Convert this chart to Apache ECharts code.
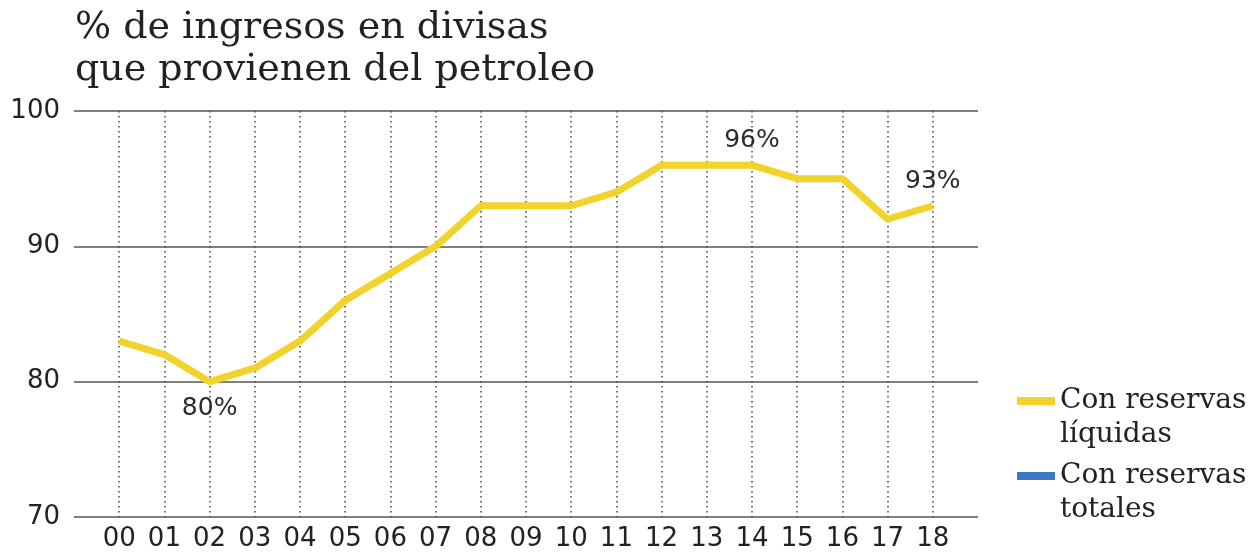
<!DOCTYPE html>
<html>
<head>
<meta charset="utf-8">
<script src="https://cdn.jsdelivr.net/npm/echarts@6/dist/echarts.min.js"></script>
<style>
  html, body { margin: 0; padding: 0; background: #fff; }
  #chart { width: 1258px; height: 554px; }
</style>
</head>
<body>
<div id="chart"></div>
<script>
'use strict';

// years 2000-2018, two-digit labels
var years = ['00', '01', '02', '03', '04', '05', '06', '07', '08', '09',
             '10', '11', '12', '13', '14', '15', '16', '17', '18'];
// % de ingresos en divisas (reservas líquidas)
var liquidas = [83, 82, 80, 81, 83, 86, 88, 90, 93, 93,
                93, 94, 96, 96, 96, 95, 95, 92, 93];
// reservas totales: no line is drawn in the source
var totales = [];
var yTicks = [70, 80, 90, 100];
var marked = ['02', '14', '18'];

var sans = '"DejaVu Sans", sans-serif';
var serif = '"DejaVu Serif", serif';

var labelPos = { '02': 'bottom', '14': 'top', '18': 'top' };

var lineData = years.map(function(y, i) {
    var item = { value: [i, liquidas[i]] };
    if (marked.indexOf(y) >= 0) {
        item.label = {
            show: true,
            position: labelPos[y],
            distance: labelPos[y] === 'bottom' ? 14 : 12,
            formatter: liquidas[i] + '%',
            fontFamily: sans,
            fontSize: 25,
            color: '#2b2b2b'
        };
    }
    return item;
});

var chart = echarts.init(document.getElementById('chart'));
chart.setOption({
    animation: false,
    backgroundColor: '#fff',
    title: {
        text: '% de ingresos en divisas\nque provienen del petroleo',
        left: 70,
        top: 2,
        textStyle: {
            fontFamily: serif,
            fontWeight: 'normal',
            fontSize: 38,
            lineHeight: 42,
            color: '#222'
        }
    },
    legend: {
        orient: 'vertical',
        left: 1012,
        top: 345,
        icon: 'rect',
        itemWidth: 38,
        itemHeight: 8,
        itemGap: -27,
        data: ['Con reservas\nlíquidas', 'Con reservas\ntotales'],
        // empty first line so the icon sits beside the first text line
        formatter: function(name) { return '\n' + name; },
        textStyle: {
            fontFamily: serif,
            fontSize: 28,
            lineHeight: 34,
            color: '#222'
        }
    },
    grid: { left: 74, right: 280, top: 111, bottom: 37 },
    xAxis: {
        type: 'value',
        min: -1,
        max: 19,
        interval: 1,
        axisLine: { show: false },
        axisTick: { show: false },
        axisLabel: {
            margin: 9,
            fontFamily: sans,
            fontSize: 26,
            color: '#222',
            formatter: function(v) {
                return (v >= 0 && v < years.length) ? years[v] : '';
            }
        },
        splitLine: {
            show: true,
            showMinLine: false,
            showMaxLine: false,
            lineStyle: { color: '#444', width: 1.5, type: [1.5, 3.5] }
        }
    },
    yAxis: {
        type: 'value',
        min: yTicks[0],
        max: yTicks[yTicks.length - 1],
        interval: 10,
        axisLine: { show: false },
        axisTick: { show: false },
        axisLabel: {
            margin: 14,
            fontFamily: sans,
            fontSize: 26,
            color: '#222'
        },
        splitLine: {
            show: true,
            lineStyle: { color: '#808080', width: 2 }
        }
    },
    series: [{
        name: 'Con reservas\nlíquidas',
        type: 'line',
        data: lineData,
        symbolSize: 0,
        showSymbol: true,
        color: '#f1d32b',
        lineStyle: { width: 7, color: '#f1d32b' },
        z: 5
    }, {
        name: 'Con reservas\ntotales',
        type: 'line',
        data: totales,
        color: '#3b78c6',
        lineStyle: { width: 7, color: '#3b78c6' }
    }]
});
</script>
</body>
</html>
